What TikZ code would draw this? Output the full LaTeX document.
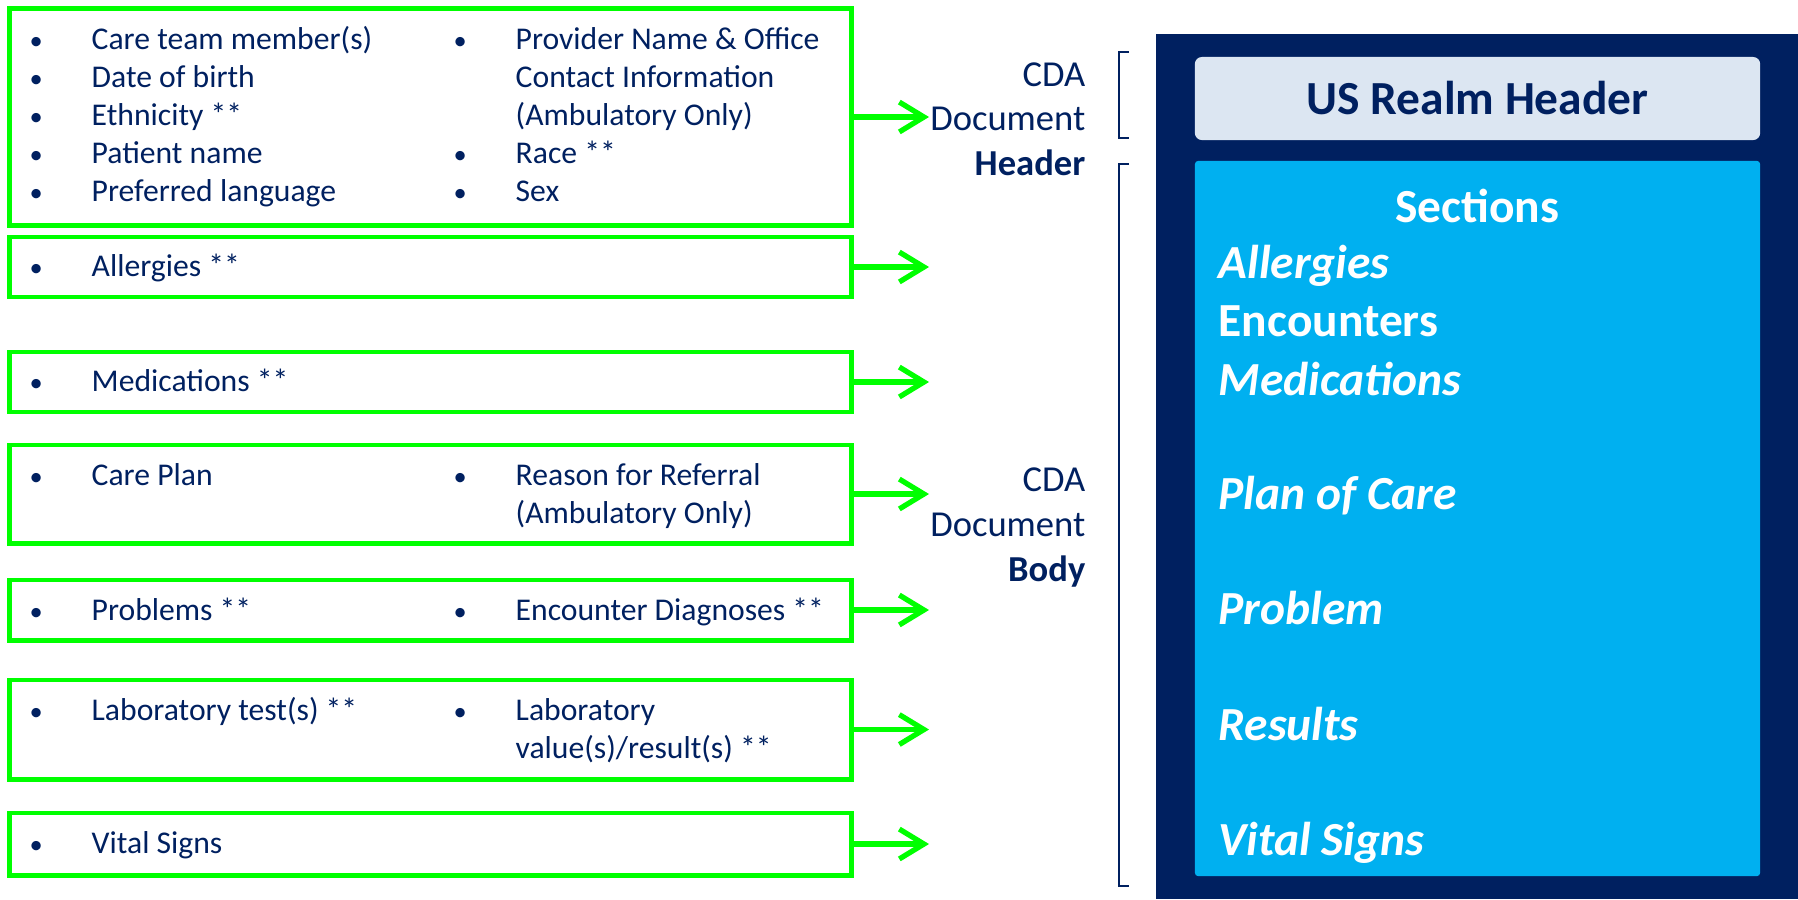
\documentclass[tikz,border=0pt]{standalone}
\usepackage{fontspec}
\setmainfont{Carlito}
\usetikzlibrary{positioning,arrows.meta}

\definecolor{navy}{RGB}{0,32,96}
\definecolor{bright}{RGB}{0,255,0}
\definecolor{sky}{RGB}{0,176,240}
\definecolor{pale}{RGB}{220,230,242}

\begin{document}
\begin{tikzpicture}[x=0.01cm,y=-0.01cm,>={Straight Barb[length=7pt,width=8.5pt]}]
            \tikzstyle{every node}=[inner sep=0pt, text=navy]
            \tikzstyle{group}=[draw=bright, line width=1.4pt, minimum width=8.41cm]
            \tikzstyle{item}=[anchor=base west, font=\fontsize{9}{10.8}\selectfont]
            \tikzstyle{dot}=[anchor=base west, font=\fontsize{7.5}{9}\selectfont]
            \tikzstyle{cda}=[anchor=base east, font=\fontsize{10.4}{12.5}\selectfont]
            \tikzstyle{section}=[anchor=base west, text=white, font=\fontsize{13.5}{16}\selectfont\bfseries]
            \tikzstyle{link}=[->, draw=bright, line width=1.5pt]
            \useasboundingbox (0,0) rectangle (1798,899);
            %  b1 ... b7  ->  CDA  [ realm ]
            %                      [ sec   ]
            \node[group, minimum height=2.16cm] (b1) at (430.5,117) {};
            \node[group, minimum height=0.60cm] (b2) at (430.5,267) {};
            \node[group, minimum height=0.60cm] (b3) at (430.5,382) {};
            \node[group, minimum height=0.98cm] (b4) at (430.5,494) {};
            \node[group, minimum height=0.60cm] (b5) at (430.5,610) {};
            \node[group, minimum height=0.99cm] (b6) at (430.5,729.5) {};
            \node[group, minimum height=0.62cm] (b7) at (430.5,844) {};
            % header items
            \foreach \t [count=\i] in {Care team member(s), Date of birth,
                Ethnicity **, Patient name, Preferred language} {
              \node[dot] (dl\i) at (29,{11+38*\i}) {•};
              \node[item] (l\i) at (91,{11+38*\i}) {\t};
            }
            \node[dot] (dr1) at (453,49) {•};
            \node[item] (r1) at (515,49) {Provider Name \& Office};
            \node[item] (r2) at (515,87) {Contact Information};
            \node[item] (r3) at (515,125) {(Ambulatory Only)};
            \node[dot] (dr4) at (453,163) {•};
            \node[item] (r4) at (515,163) {Race **};
            \node[dot] (dr5) at (453,201) {•};
            \node[item] (r5) at (515,201) {Sex};
            % body items
            \node[dot] (d6) at (29,276) {•};
            \node[item] (allergy) at (91,276) {Allergies **};
            \node[dot] (d7) at (29,391) {•};
            \node[item] (meds) at (91,391) {Medications **};
            \node[dot] (d8) at (29,485) {•};
            \node[item] (plan) at (91,485) {Care Plan};
            \node[dot] (d9) at (453,485) {•};
            \node[item] (refer) at (515,485) {Reason for Referral};
            \node[item] (refer2) at (515,523) {(Ambulatory Only)};
            \node[dot] (d10) at (29,620) {•};
            \node[item] (prob) at (91,620) {Problems **};
            \node[dot] (d11) at (453,620) {•};
            \node[item] (diag) at (515,620) {Encounter Diagnoses **};
            \node[dot] (d12) at (29,720) {•};
            \node[item] (labtest) at (91,720) {Laboratory test(s) **};
            \node[dot] (d13) at (453,720) {•};
            \node[item] (labval) at (515,720) {Laboratory};
            \node[item] (labval2) at (515,758) {value(s)/result(s) **};
            \node[dot] (d14) at (29,853) {•};
            \node[item] (vital) at (91,853) {Vital Signs};
            % arrows
            \coordinate (tip) at (929,0);
            \foreach \i in {1,...,7}
              \draw[link] (b\i) -- (b\i -| tip);
            % CDA labels and brackets
            \node[cda] (h1) at (1086,86) {CDA};
            \node[cda] (h2) at (1086,130) {Document};
            \node[cda] (h3) at (1086,175) {\bfseries Header};
            \node[cda] (m1) at (1086,491) {CDA};
            \node[cda] (m2) at (1086,536) {Document};
            \node[cda] (m3) at (1086,581) {\bfseries Body};
            \draw[navy, line width=0.6pt] (1129,52) -- (1119,52) -- (1119,138) -- (1129,138);
            \draw[navy, line width=0.6pt] (1129,164) -- (1119,164) -- (1119,886) -- (1129,886);
            % document
            \node[fill=navy, minimum width=6.42cm, minimum height=8.65cm] (doc) at (1477,466.5) {};
            \node[fill=pale, rounded corners=2pt, minimum width=5.65cm, minimum height=0.83cm,
                  font=\fontsize{13.5}{16}\selectfont\bfseries] (realm) at (1477.5,98.5) {US Realm Header};
            \node[fill=sky, rounded corners=1pt, minimum width=5.65cm, minimum height=7.15cm] (sec) at (1477.5,518.5) {};
            \node[section, anchor=base] (title) at (1477,222) {Sections};
            \node[section] (s2) at (1218,336) {Encounters};
            \foreach \t/\y [count=\i] in {Allergies/278, Medications/395, Plan of Care/509,
                Problem/624, Results/740, Vital Signs/855}
              \node[section, font=\fontsize{13.5}{16}\selectfont\bfseries\itshape] (s\i) at (1218,\y) {\t};
\end{tikzpicture}
\end{document}
